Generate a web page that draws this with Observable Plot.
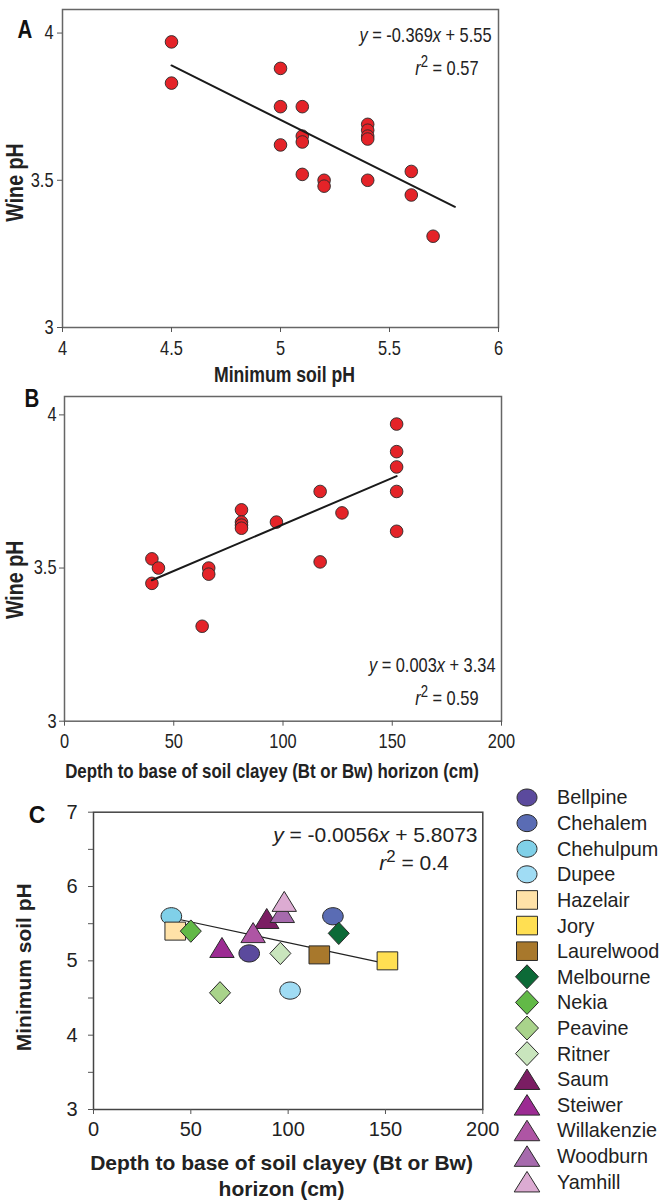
<!DOCTYPE html>
<html><head><meta charset="utf-8">
<script src="https://cdn.jsdelivr.net/npm/d3@7"></script>
<script src="https://cdn.jsdelivr.net/npm/@observablehq/plot@0.6"></script>
<style>
body{margin:0;background:#fff;}
#wrap{position:relative;width:662px;height:1200px;overflow:hidden;background:#fff;}
#wrap svg{position:absolute;left:0;overflow:visible;}
</style></head><body><div id="wrap"></div>
<script>
// ---------- data ----------
// Panel A: minimum soil pH vs wine pH
const soilPH_A = [4.5,4.5,5.0,5.0,5.0,5.1,5.1,5.1,5.1,5.2,5.2,5.4,5.4,5.4,5.4,5.4,5.6,5.6,5.7];
const winePH_A = [3.97,3.83,3.88,3.75,3.62,3.75,3.65,3.63,3.52,3.50,3.48,3.69,3.67,3.65,3.64,3.50,3.53,3.45,3.31];
const fitA_x = [4.5, 5.8];
const fitA_y = [3.89, 3.41];
const ticksA_x = [4, 4.5, 5, 5.5, 6];
const ticksA_y = [3, 3.5, 4];

// Panel B: depth to base of clayey horizon vs wine pH
const depth_B = [40,40,43,63,66,66,81,81,81,81,97,117,117,127,152,152,152,152,152];
const winePH_B = [3.53,3.45,3.50,3.31,3.50,3.48,3.69,3.65,3.64,3.63,3.65,3.75,3.52,3.68,3.97,3.88,3.83,3.75,3.62];
const fitB_x = [40, 152];
const fitB_y = [3.46, 3.80];
const ticksB_x = [0, 50, 100, 150, 200];
const ticksB_y = [3, 3.5, 4];

// Panel C: depth vs minimum soil pH by soil series
const soils  = ["Bellpine","Chehalem","Chehulpum","Dupee","Hazelair","Jory","Laurelwood","Melbourne","Nekia","Peavine","Ritner","Saum","Steiwer","Willakenzie","Woodburn","Yamhill"];
const shapes = ["circle","circle","circle","circle","square","square","square","diamond","diamond","diamond","diamond","triangle","triangle","triangle","triangle","triangle"];
const colors = ["#5b4a9d","#5a6cb4","#80d0e8","#a0dcf4","#ffe2a8","#ffdf52","#a8782c","#0c6a37","#62b947","#a9d38b","#c9e5bd","#7b1d63","#9c2b93","#ae55a4","#a66aad","#dcabd2"];
const depth_C  = [80,123,40,101,42,151,116,126,50,65,96,89,66,82,97,98];
const minPH_C  = [5.1,5.6,5.6,4.6,5.4,5.0,5.08,5.37,5.4,4.57,5.1,5.57,5.18,5.38,5.65,5.8];
const drawOrder = ["Chehulpum","Hazelair","Nekia","Steiwer","Bellpine","Saum","Woodburn","Yamhill","Willakenzie","Ritner","Peavine","Dupee","Laurelwood","Chehalem","Melbourne","Jory"];
const fitC_x = [40, 151];
const fitC_y = [5.58, 4.96];
const ticksC_x = [0, 50, 100, 150, 200];
const ticksC_y = [3, 4, 5, 6, 7];
const minorC_y = [3.5, 4.5, 5.5, 6.5];

// ---------- helpers ----------
const SANS = "'Liberation Sans',Arial,sans-serif";
const NARROW_K = 0.82; // Arial-Narrow-like horizontal compression for panels A and B

const dataA = soilPH_A.map((x, i) => ({x, y: winePH_A[i]}));
const lineA = fitA_x.map((x, i) => ({x, y: fitA_y[i]}));
const dataB = depth_B.map((x, i) => ({x, y: winePH_B[i]}));
const lineB = fitB_x.map((x, i) => ({x, y: fitB_y[i]}));
const dataC = soils.map((s, i) => ({soil: s, shape: shapes[i], fill: colors[i], x: depth_C[i], y: minPH_C[i]}))
  .sort((a, b) => drawOrder.indexOf(a.soil) - drawOrder.indexOf(b.soil));
const lineC = fitC_x.map((x, i) => ({x, y: fitC_y[i]}));

function ellipse(rx, ry) {
  return {draw(c) {
    const k = 0.5523;
    c.moveTo(rx, 0);
    c.bezierCurveTo(rx, ry * k, rx * k, ry, 0, ry);
    c.bezierCurveTo(-rx * k, ry, -rx, ry * k, -rx, 0);
    c.bezierCurveTo(-rx, -ry * k, -rx * k, -ry, 0, -ry);
    c.bezierCurveTo(rx * k, -ry, rx, -ry * k, rx, 0);
    c.closePath();
  }};
}
function rectSym(hw, hh) { return {draw(c) { c.moveTo(-hw, -hh); c.lineTo(hw, -hh); c.lineTo(hw, hh); c.lineTo(-hw, hh); c.closePath(); }}; }
function diamondSym(hw, hh) { return {draw(c) { c.moveTo(0, -hh); c.lineTo(hw, 0); c.lineTo(0, hh); c.lineTo(-hw, 0); c.closePath(); }}; }
function triSym(hw, h) { return {draw(c) { c.moveTo(0, -h / 2); c.lineTo(hw, h / 2); c.lineTo(-hw, h / 2); c.closePath(); }}; }

const plotSym = {circle: ellipse(10.3, 8.6), square: rectSym(10.3, 9), diamond: diamondSym(10.5, 11.2), triangle: triSym(12.2, 20)};
const legSym  = {circle: ellipse(10, 8.5), square: rectSym(10.5, 9.3), diamond: diamondSym(11.5, 12), triangle: triSym(12.8, 20.5)};

function richText(svg, plain, html) {
  d3.select(svg).selectAll("text").filter(function () { return this.textContent === plain; }).html(html);
}
function narrow(svg) {
  d3.select(svg).selectAll("text").each(function () {
    const t = this.getAttribute("transform") || "";
    this.setAttribute("transform", t + ` scale(${NARROW_K},1)`);
  });
}
const R2 = v => `<tspan font-style="italic">r</tspan><tspan dy="-0.5em" font-size="0.8em">2</tspan><tspan dy="0.4em"> = ${v}</tspan>`;

const wrap = document.getElementById("wrap");
function place(svg, top) { svg.style.top = top + "px"; wrap.appendChild(svg); }

// ---------- Panel A ----------
const A = Plot.plot({
  width: 662, height: 385,
  marginLeft: 62, marginRight: 164, marginTop: 9, marginBottom: 58,
  x: {domain: [4, 6]},
  y: {domain: [3, 4.08]},
  style: {fontFamily: SANS, fontSize: "20px", color: "#222", background: "transparent", overflow: "visible"},
  marks: [
    Plot.frame({stroke: "#666", strokeWidth: 1.5}),
    Plot.axisX(ticksA_x, {tickSize: 5, tickPadding: 8, label: null, tickFormat: d => String(d), fontSize: 20, stroke: "#555"}),
    Plot.axisY(ticksA_y, {tickSize: 5, tickPadding: 4, label: null, tickFormat: d => String(d), fontSize: 20, stroke: "#555"}),
    Plot.dot(dataA, {x: "x", y: "y", r: 6.3, fill: "#e42328", stroke: "#2a2a2a", strokeWidth: 0.9}),
    Plot.line(lineA, {x: "x", y: "y", stroke: "#1a1a1a", strokeWidth: 2}),
    Plot.text(["Minimum soil pH"], {frameAnchor: "bottom", dx: 4, dy: 48, textAnchor: "middle", lineAnchor: "middle", fontWeight: "bold", fontSize: 21.5, fill: "#222"}),
    Plot.text(["Wine pH"], {frameAnchor: "left", dx: -47, dy: 14, rotate: -90, textAnchor: "middle", lineAnchor: "middle", fontWeight: "bold", fontSize: 24, fill: "#222"}),
    Plot.text(["A"], {frameAnchor: "top-left", dx: -37.5, dy: 20.5, textAnchor: "middle", lineAnchor: "middle", fontWeight: "bold", fontSize: 25, fill: "#111"}),
    Plot.text(["y = -0.369x + 5.55"], {frameAnchor: "top-right", dx: -7, dy: 26, textAnchor: "end", lineAnchor: "middle", fontSize: 20, fill: "#222"}),
    Plot.text(["r2 = 0.57"], {frameAnchor: "top-right", dx: -20, dy: 59, textAnchor: "end", lineAnchor: "middle", fontSize: 20, fill: "#222"})
  ]
});
richText(A, "y = -0.369x + 5.55", '<tspan font-style="italic">y</tspan> = -0.369<tspan font-style="italic">x</tspan> + 5.55');
richText(A, "r2 = 0.57", R2("0.57"));
narrow(A);
place(A, 0);

// ---------- Panel B ----------
const B = Plot.plot({
  width: 662, height: 400,
  marginLeft: 64, marginRight: 161, marginTop: 11, marginBottom: 64.3,
  x: {domain: [0, 200]},
  y: {domain: [3, 4.06]},
  style: {fontFamily: SANS, fontSize: "20px", color: "#222", background: "transparent", overflow: "visible"},
  marks: [
    Plot.frame({stroke: "#666", strokeWidth: 1.5}),
    Plot.axisX(ticksB_x, {tickSize: 5, tickPadding: 8, label: null, tickFormat: d => String(d), fontSize: 20, stroke: "#555"}),
    Plot.axisY(ticksB_y, {tickSize: 5, tickPadding: 3, label: null, tickFormat: d => String(d), fontSize: 20, stroke: "#555"}),
    Plot.dot(dataB, {x: "x", y: "y", r: 6.3, fill: "#e42328", stroke: "#2a2a2a", strokeWidth: 0.9}),
    Plot.line(lineB, {x: "x", y: "y", stroke: "#1a1a1a", strokeWidth: 2}),
    Plot.text(["Depth to base of soil clayey (Bt or Bw) horizon (cm)"], {frameAnchor: "bottom", dx: -11, dy: 50, textAnchor: "middle", lineAnchor: "middle", fontWeight: "bold", fontSize: 20.6, fill: "#222"}),
    Plot.text(["Wine pH"], {frameAnchor: "left", dx: -49, dy: 21, rotate: -90, textAnchor: "middle", lineAnchor: "middle", fontWeight: "bold", fontSize: 24, fill: "#222"}),
    Plot.text(["B"], {frameAnchor: "top-left", dx: -32.5, dy: 2.5, textAnchor: "middle", lineAnchor: "middle", fontWeight: "bold", fontSize: 25, fill: "#111"}),
    Plot.text(["y = 0.003x + 3.34"], {frameAnchor: "bottom-right", dx: -6, dy: -56, textAnchor: "end", lineAnchor: "middle", fontSize: 20, fill: "#222"}),
    Plot.text(["r2 = 0.59"], {frameAnchor: "bottom-right", dx: -23, dy: -23, textAnchor: "end", lineAnchor: "middle", fontSize: 20, fill: "#222"})
  ]
});
richText(B, "y = 0.003x + 3.34", '<tspan font-style="italic">y</tspan> = 0.003<tspan font-style="italic">x</tspan> + 3.34');
richText(B, "r2 = 0.59", R2("0.59"));
narrow(B);
place(B, 385);

// ---------- Panel C ----------
const C = Plot.plot({
  width: 662, height: 415,
  marginLeft: 93, marginRight: 179.7, marginTop: 26.7, marginBottom: 91,
  x: {domain: [0, 200]},
  y: {domain: [3, 7]},
  style: {fontFamily: SANS, fontSize: "20px", color: "#222", background: "transparent", overflow: "visible"},
  marks: [
    Plot.frame({stroke: "#444", strokeWidth: 1.5}),
    Plot.axisX(ticksC_x, {tickSize: 5, tickPadding: 7, label: null, tickFormat: d => String(d), fontSize: 20, stroke: "#555"}),
    Plot.axisY(ticksC_y, {tickSize: 5, tickPadding: 11, label: null, tickFormat: d => String(d), fontSize: 20, stroke: "#555"}),
    Plot.axisY(minorC_y, {tickSize: 5, label: null, tickFormat: () => "", stroke: "#555"}),
    Plot.line(lineC, {x: "x", y: "y", stroke: "#222", strokeWidth: 1.2}),
    ...dataC.map(d => Plot.dot([d], {x: "x", y: "y", r: 10, symbol: plotSym[d.shape], fill: d.fill, stroke: "#2a2a2a", strokeWidth: 1})),
    Plot.text(["Depth to base of soil clayey (Bt or Bw)\nhorizon (cm)"], {frameAnchor: "bottom", dx: -6.6, dy: 65, textAnchor: "middle", lineAnchor: "middle", lineHeight: 1.25, fontWeight: "bold", fontSize: 21, fill: "#222"}),
    Plot.text(["Minimum soil pH"], {frameAnchor: "left", dx: -69, dy: 6.4, rotate: -90, textAnchor: "middle", lineAnchor: "middle", fontWeight: "bold", fontSize: 21, fill: "#222"}),
    Plot.text(["C"], {frameAnchor: "top-left", dx: -56.5, dy: 3.3, textAnchor: "middle", lineAnchor: "middle", fontWeight: "bold", fontSize: 23, fill: "#111"}),
    Plot.text(["y = -0.0056x + 5.8073"], {frameAnchor: "top-right", dx: -5.3, dy: 23.3, textAnchor: "end", lineAnchor: "middle", fontSize: 21, fill: "#222"}),
    Plot.text(["r2 = 0.4"], {frameAnchor: "top-right", dx: -34, dy: 51, textAnchor: "end", lineAnchor: "middle", fontSize: 21, fill: "#222"})
  ]
});
richText(C, "y = -0.0056x + 5.8073", '<tspan font-style="italic">y</tspan> = -0.0056<tspan font-style="italic">x</tspan> + 5.8073');
richText(C, "r2 = 0.4", R2("0.4"));
place(C, 785);

// ---------- Legend ----------
const leg = d3.create("svg").attr("width", 662).attr("height", 1200)
  .attr("style", "top:0;left:0;position:absolute;overflow:visible;font-family:" + SANS);
const legY = d3.scalePoint().domain(soils).range([797.5, 1181.7]);
soils.forEach((s, i) => {
  const p = d3.path(); legSym[shapes[i]].draw(p);
  const g = leg.append("g").attr("transform", `translate(527,${legY(s)})`);
  g.append("path").attr("d", p.toString()).attr("fill", colors[i]).attr("stroke", "#2a2a2a").attr("stroke-width", 1);
  g.append("text").attr("x", 30).attr("dy", "0.35em").attr("font-size", 19.8).attr("fill", "#222").text(s);
});
wrap.appendChild(leg.node());
</script></body></html>
